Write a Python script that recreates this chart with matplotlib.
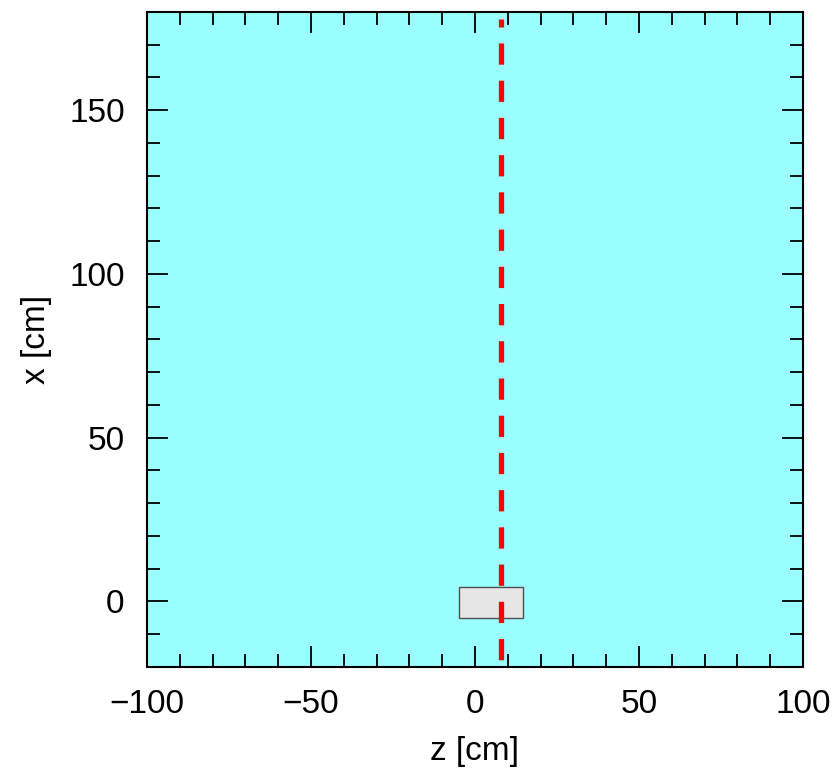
import matplotlib
matplotlib.use("Agg")
import matplotlib.pyplot as plt
from matplotlib.patches import Rectangle
from matplotlib.ticker import MultipleLocator

# geometry (cm)
z_range = [-100, 100]
x_range = [-20, 180]
block_z = [-5, 14.5]
block_x = [-5, 4.5]
beam_z = 8
beam_x = [-29.3, 177.7]

plt.rcParams['font.family'] = ['Liberation Sans', 'DejaVu Sans']
plt.rcParams['lines.scale_dashes'] = False

fig = plt.figure(figsize=(8.36, 7.68), dpi=100)
ax = fig.add_axes([0.1758, 0.1315, 0.7847, 0.853])
ax.set_facecolor("#99ffff")

ax.add_patch(Rectangle((block_z[0], block_x[0]), block_z[1] - block_z[0], block_x[1] - block_x[0],
                       facecolor="#e6e6e6", edgecolor="#505050", linewidth=1.0, zorder=2))
ax.plot([beam_z, beam_z], beam_x, color="#ff0000", linewidth=3.8,
        dashes=(15.3, 11.5), zorder=3)

ax.set_xlim(z_range)
ax.set_ylim(x_range)
ax.xaxis.set_major_locator(MultipleLocator(50))
ax.xaxis.set_minor_locator(MultipleLocator(10))
ax.yaxis.set_major_locator(MultipleLocator(50))
ax.yaxis.set_minor_locator(MultipleLocator(10))
ax.tick_params(which="both", direction="in", top=True, right=True, width=1.3,
               labelsize=24, pad=16)
ax.tick_params(which="major", length=15)
ax.tick_params(which="minor", length=9.5)
for s in ax.spines.values():
    s.set_linewidth(1.5)

ax.set_xlabel("z [cm]", fontsize=24, labelpad=11)
ax.set_ylabel("x [cm]", fontsize=24, labelpad=12)

fig.savefig("out.png", dpi=100)
